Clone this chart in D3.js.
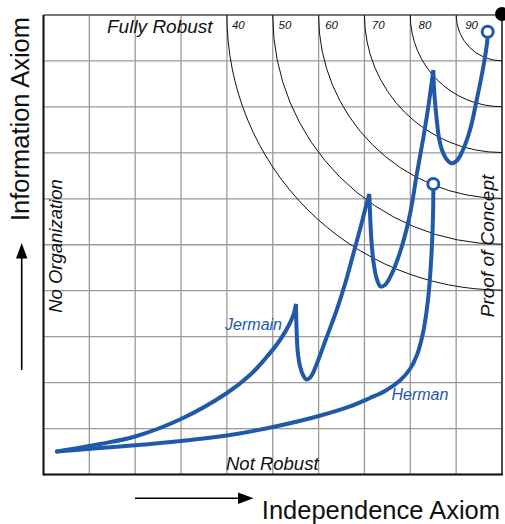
<!DOCTYPE html>
<html>
<head>
<meta charset="utf-8">
<script src="https://cdn.jsdelivr.net/npm/d3@7"></script>
<style>
  html, body { margin: 0; padding: 0; background: #fff; }
  svg { display: block; }
  text { font-family: "Liberation Sans", Arial, sans-serif; }
</style>
</head>
<body>
<svg id="chart" width="505" height="524"></svg>
<script>
// ---- data ----
const gridTicks = [0, 10, 20, 30, 40, 50, 60, 70, 80, 90, 100];
const arcLevels = [40, 50, 60, 70, 80, 90];
const arcLabels = ["40", "50", "60", "70", "80", "90"];

const jermainX = [2.94, 12.32, 19.96, 29.99, 40.02, 45.04, 48.31, 51.58, 53.76, 54.63, 55.07,
  55.20, 55.46, 55.94, 56.60, 57.36, 58.34, 59.59, 61.77, 63.95, 65.76, 67.57, 69.40, 70.34, 71.06,
  71.28, 71.56, 71.97, 72.63, 73.50, 74.48, 75.94, 78.12, 79.94, 81.39, 82.83, 83.92, 85.02,
  85.17, 85.45, 85.82, 86.26, 86.91, 87.79, 88.98, 90.18, 91.28, 93.02, 94.48, 95.92, 96.79, 96.88];
const jermainY = [5.01, 6.64, 8.27, 12.08, 17.74, 21.65, 25.14, 29.27, 32.97, 35.15, 37.11,
  31.45, 26.66, 23.61, 21.65, 20.67, 21.33, 24.05, 29.92, 35.80, 41.46, 47.99, 54.73, 58.43, 61.05,
  55.39, 50.38, 46.25, 42.76, 40.91, 41.24, 43.63, 49.51, 56.69, 65.18, 73.23, 79.98, 88.03,
  84.11, 80.41, 76.71, 73.23, 70.62, 68.77, 67.73, 68.34, 70.19, 74.97, 81.50, 88.68, 94.34, 96.37];
const jermainCusps = [10, 24, 37];

const hermanX = [2.94, 12.32, 19.96, 29.99, 40.02, 50.05, 60.09, 66.85, 71.21, 74.48, 77.75,
  79.93, 81.46, 82.77, 83.53, 84.08, 84.52, 84.84, 85.00, 85.02];
const hermanY = [5.01, 5.77, 6.35, 7.29, 8.49, 10.34, 12.73, 14.80, 16.65, 18.17, 20.46,
  22.96, 26.01, 30.79, 35.36, 40.15, 46.25, 52.77, 58.65, 63.22];

// ---- layout ----
const svg = d3.select("#chart");
const x = d3.scaleLinear().domain([0, 100]).range([43.5, 502]);
const y = d3.scaleLinear().domain([0, 100]).range([474.5, 15]);
const blue = "#2159a9";

// grid
svg.append("g").selectAll("line").data(gridTicks).join("line")
  .attr("x1", d => x(d)).attr("x2", d => x(d))
  .attr("y1", y(0)).attr("y2", y(100))
  .attr("stroke", "#9a9a9a").attr("stroke-width", 1.3);
svg.append("g").selectAll("line").data(gridTicks).join("line")
  .attr("y1", d => y(d)).attr("y2", d => y(d))
  .attr("x1", x(0)).attr("x2", x(100))
  .attr("stroke", "#9a9a9a").attr("stroke-width", 1.3);

// frame
svg.append("line").attr("x1", x(0)).attr("x2", x(100)).attr("y1", y(100)).attr("y2", y(100))
  .attr("stroke", "#666").attr("stroke-width", 1.6);
svg.append("line").attr("x1", x(100)).attr("x2", x(100)).attr("y1", y(0)).attr("y2", y(100))
  .attr("stroke", "#333").attr("stroke-width", 1.6);
svg.append("line").attr("x1", x(0)).attr("x2", x(0)).attr("y1", y(0) + 1).attr("y2", y(100))
  .attr("stroke", "#111").attr("stroke-width", 2);
svg.append("line").attr("x1", x(0)).attr("x2", x(100) + 1).attr("y1", y(0)).attr("y2", y(0))
  .attr("stroke", "#111").attr("stroke-width", 2);

// arcs
const cx = x(100), cy = y(100);
svg.append("g").selectAll("path").data(arcLevels).join("path")
  .attr("d", d => {
    const r = x(100) - x(d);
    const p = d3.path();
    p.moveTo(cx - r, cy);
    p.arc(cx, cy, r, Math.PI, Math.PI / 2, true);
    return p.toString();
  })
  .attr("fill", "none").attr("stroke", "#111").attr("stroke-width", 1);
svg.append("g").selectAll("text").data(arcLevels).join("text")
  .attr("x", (d, i) => x(d) + 5 + i * 0.8)
  .attr("y", 29)
  .attr("font-size", 11.5).attr("font-style", "italic").attr("fill", "#111")
  .text((d, i) => arcLabels[i]);

// corner dot
svg.append("circle").attr("cx", cx).attr("cy", cy - 1).attr("r", 7).attr("fill", "#000");

// curves
const line = d3.line().x(d => x(d[0])).y(d => y(d[1])).curve(d3.curveCatmullRom.alpha(0.5));
const jPts = jermainX.map((v, i) => [v, jermainY[i]]);
const bounds = [0, ...jermainCusps, jPts.length - 1];
let jd = "";
for (let k = 0; k < bounds.length - 1; k++) {
  const seg = line(jPts.slice(bounds[k], bounds[k + 1] + 1));
  jd += k === 0 ? seg : seg.replace(/^M/, "L");
}
const hPts = hermanX.map((v, i) => [v, hermanY[i]]);
svg.append("path").attr("d", line(hPts))
  .attr("fill", "none").attr("stroke", blue).attr("stroke-width", 4).attr("stroke-linecap", "round");
svg.append("path").attr("d", jd)
  .attr("fill", "none").attr("stroke", blue).attr("stroke-width", 4)
  .attr("stroke-linecap", "round").attr("stroke-miterlimit", 2);

// end markers
const ends = [jPts[jPts.length - 1], hPts[hPts.length - 1]];
svg.append("g").selectAll("circle").data(ends).join("circle")
  .attr("cx", d => x(d[0])).attr("cy", d => y(d[1])).attr("r", 5.5)
  .attr("fill", "#fff").attr("stroke", blue).attr("stroke-width", 3);

// series labels
svg.append("text").attr("x", 282).attr("y", 330).attr("text-anchor", "end")
  .attr("font-size", 16).attr("font-style", "italic").attr("fill", blue).text("Jermain");
svg.append("text").attr("x", 391.5).attr("y", 400)
  .attr("font-size", 16).attr("font-style", "italic").attr("fill", blue).text("Herman");

// region labels
svg.append("text").attr("x", 107).attr("y", 33)
  .attr("font-size", 19).attr("font-style", "italic").attr("fill", "#111").text("Fully Robust");
svg.append("text").attr("x", 226).attr("y", 469.5)
  .attr("font-size", 18.5).attr("font-style", "italic").attr("fill", "#111").text("Not Robust");
svg.append("text").attr("transform", "translate(62,246) rotate(-90)").attr("text-anchor", "middle")
  .attr("font-size", 18.5).attr("font-style", "italic").attr("fill", "#111").text("No Organization");
svg.append("text").attr("transform", "translate(494,246) rotate(-90)").attr("text-anchor", "middle")
  .attr("font-size", 19).attr("font-style", "italic").attr("fill", "#111").text("Proof of Concept");

// axis titles
svg.append("text").attr("x", 500).attr("y", 519).attr("text-anchor", "end")
  .attr("font-size", 25.5).attr("fill", "#111").text("Independence Axiom");
svg.append("text").attr("transform", "translate(29,119) rotate(-90)").attr("text-anchor", "middle")
  .attr("font-size", 25.5).attr("fill", "#111").text("Information Axiom");

// arrows
svg.append("line").attr("x1", 135).attr("x2", 240).attr("y1", 498.3).attr("y2", 498.3)
  .attr("stroke", "#000").attr("stroke-width", 1.6);
svg.append("path").attr("d", "M253.5,498.3 L238,492.6 L238,504 Z").attr("fill", "#000");
svg.append("line").attr("x1", 21.7).attr("x2", 21.7).attr("y1", 370).attr("y2", 256)
  .attr("stroke", "#000").attr("stroke-width", 1.6);
svg.append("path").attr("d", "M21.7,243 L16,258.5 L27.4,258.5 Z").attr("fill", "#000");
</script>
</body>
</html>
